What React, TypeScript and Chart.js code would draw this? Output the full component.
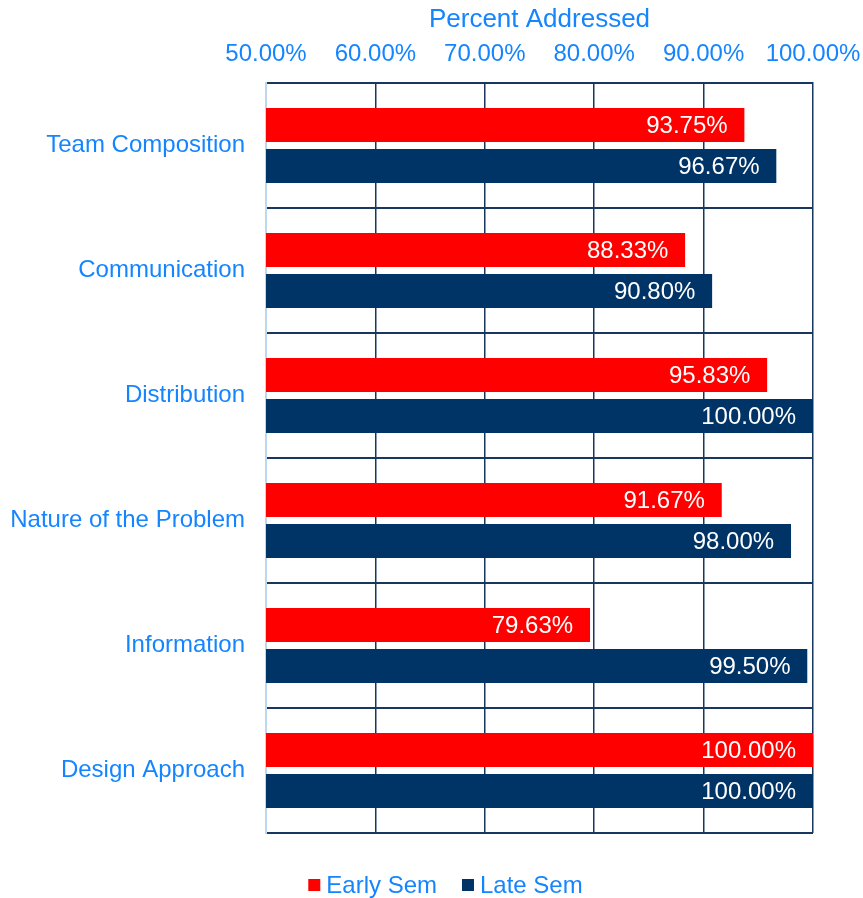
import React, { useEffect, useRef } from "react";
import { Chart, registerables } from "chart.js";

Chart.register(...registerables);

const categories = ["Team Composition", "Communication", "Distribution", "Nature of the Problem", "Information", "Design Approach"];
const earlySem = [93.75, 88.33, 95.83, 91.67, 79.63, 100.0];
const lateSem = [96.67, 90.8, 100.0, 98.0, 99.5, 100.0];
const seriesNames = ["Early Sem", "Late Sem"];
const axisTitle = "Percent Addressed";
const xMin = 50;
const xMax = 100;
const xStep = 10;

const BLUE_TEXT = "#1485FF";
const RED = "#FF0000";
const NAVY = "#003366";
const GRID = "#17375E";
const LIGHT = "#BDD7EE";
const FONT = "'Liberation Sans', Arial, sans-serif";

const valueLabels = {
  id: "valueLabels",
  afterDatasetsDraw(chart: any) {
    const ctx = chart.ctx;
    ctx.save();
    ctx.font = `24px ${FONT}`;
    ctx.fillStyle = "#FFFFFF";
    ctx.textAlign = "right";
    ctx.textBaseline = "middle";
    chart.data.datasets.forEach((ds: any, di: number) => {
      const meta = chart.getDatasetMeta(di);
      meta.data.forEach((el: any, i: number) => {
        const v = ds.data[i] as number;
        ctx.fillText(v.toFixed(2) + "%", el.x - 17, el.y + 1);
      });
    });
    ctx.restore();
  },
};

const customLegend = {
  id: "customLegend",
  afterDraw(chart: any) {
    const ctx = chart.ctx;
    ctx.save();
    ctx.font = `24px ${FONT}`;
    ctx.textBaseline = "middle";
    ctx.textAlign = "left";
    const box = 12;
    const gap = 6;
    const itemGap = 25;
    const items = chart.data.datasets.map((ds: any) => ({
      text: ds.label,
      color: ds.backgroundColor,
      w: box + gap + ctx.measureText(ds.label).width,
    }));
    const total = items.reduce((a: number, it: any) => a + it.w, 0) + itemGap * (items.length - 1);
    const cx = chart.width / 2 + 14;
    const cy = chart.chartArea.bottom + 52;
    let x = cx - total / 2;
    items.forEach((it: any) => {
      ctx.fillStyle = it.color;
      ctx.fillRect(x, cy - box / 2, box, box);
      ctx.fillStyle = BLUE_TEXT;
      ctx.fillText(it.text, x + box + gap, cy + 1);
      x += it.w + itemGap;
    });
    ctx.restore();
  },
};

export default function App() {
  const ref = useRef<HTMLCanvasElement>(null);
  useEffect(() => {
    if (!ref.current) return;
    const chart = new Chart(ref.current, {
      type: "bar",
      data: {
        labels: categories,
        datasets: [
          {
            label: seriesNames[0],
            data: earlySem,
            backgroundColor: RED,
            borderColor: "rgba(0,0,0,0)",
            borderWidth: { top: 3.5, bottom: 3.5, left: 0, right: 0 },
            categoryPercentage: 0.655,
            barPercentage: 1,
          },
          {
            label: seriesNames[1],
            data: lateSem,
            backgroundColor: NAVY,
            borderColor: "rgba(0,0,0,0)",
            borderWidth: { top: 3.5, bottom: 3.5, left: 0, right: 0 },
            categoryPercentage: 0.655,
            barPercentage: 1,
          },
        ],
      },
      options: {
        indexAxis: "y",
        animation: false,
        responsive: true,
        maintainAspectRatio: false,
        layout: { padding: { left: 10, right: 37, top: 4, bottom: 65 } },
        scales: {
          x: {
            position: "top",
            min: xMin,
            max: xMax,
            afterFit: (s: any) => {
              s.paddingRight = 50;
            },
            ticks: {
              stepSize: xStep,
              maxRotation: 0,
              autoSkip: false,
              padding: 14,
              color: BLUE_TEXT,
              font: { family: FONT, size: 24 },
              callback: (v: any) => Number(v).toFixed(2) + "%",
            },
            grid: {
              color: (c: any) => (c.index === 0 ? LIGHT : GRID),
              lineWidth: 1.5,
              drawTicks: false,
            },
            border: { display: true, color: GRID, width: 2 },
            title: {
              display: true,
              text: axisTitle,
              color: BLUE_TEXT,
              font: { family: FONT, size: 26 },
              padding: { top: 0, bottom: -9 },
            },
          },
          y: {
            afterFit: (s: any) => {
              s.width = 256;
            },
            ticks: {
              color: BLUE_TEXT,
              font: { family: FONT, size: 24 },
              padding: 21,
            },
            grid: {
              color: GRID,
              lineWidth: 2,
              drawTicks: false,
              offset: true,
            },
            border: { display: true, color: LIGHT, width: 2 },
          },
        },
        plugins: {
          legend: { display: false },
          tooltip: { enabled: false },
        },
      },
      plugins: [valueLabels, customLegend],
    } as any);
    return () => chart.destroy();
  }, []);
  return (
    <div style={{ position: "fixed", left: 0, top: 0, width: 863, height: 898 }}>
      <canvas ref={ref} />
    </div>
  );
}
